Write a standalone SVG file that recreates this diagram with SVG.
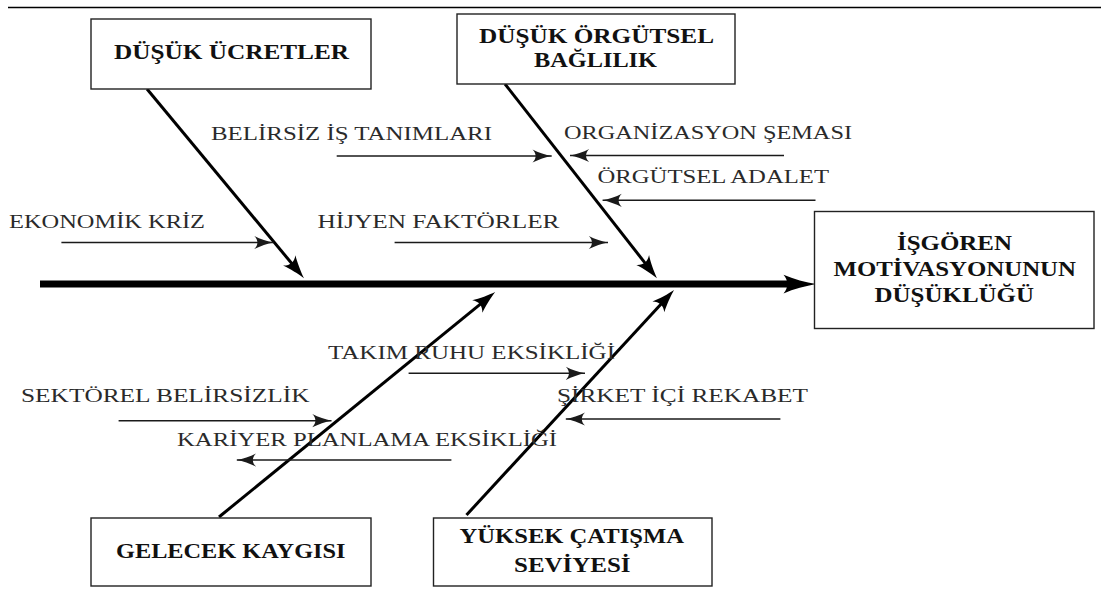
<svg xmlns="http://www.w3.org/2000/svg" width="1101" height="601" viewBox="0 0 1101 601">
  <style>
    .box { fill: #ffffff; stroke: #222222; stroke-width: 1.4; }
    .title { font-family: "Liberation Serif", "DejaVu Serif", serif; font-weight: bold; font-size: 21px; fill: #111111; }
    .label { font-family: "Liberation Serif", "DejaVu Serif", serif; font-size: 19.5px; fill: #2a2a2a; }
    .spine { stroke: #000000; stroke-width: 7; fill: none; marker-end: url(#spineHead); }
    .bone { stroke: #000000; stroke-width: 3; fill: none; marker-end: url(#boneHead); }
    .cause { stroke: #1a1a1a; stroke-width: 1.4; fill: none; marker-end: url(#causeHead); }
  </style>
  <defs>
    <marker id="spineHead" markerUnits="userSpaceOnUse" orient="auto" refX="-16" refY="0" markerWidth="40" markerHeight="40" viewBox="-30 -10 32 20" overflow="visible">
      <path d="M0,0 C-8,-1.5 -18,-4 -26,-7.5 C-22,-3 -22,3 -26,7.5 C-18,4 -8,1.5 0,0 Z" fill="#000000"/>
    </marker>
    <marker id="boneHead" markerUnits="userSpaceOnUse" orient="auto" refX="-10" refY="0" markerWidth="30" markerHeight="30" viewBox="-24 -10 26 20" overflow="visible">
      <path d="M0,0 C-6,-1.5 -14,-4 -20,-7 C-16,-2.5 -16,2.5 -20,7 C-14,4 -6,1.5 0,0 Z" fill="#000000"/>
    </marker>
    <marker id="causeHead" markerUnits="userSpaceOnUse" orient="auto" refX="0" refY="0" markerWidth="24" markerHeight="24" viewBox="-18 -8 20 16" overflow="visible">
      <path d="M0,0 C-5,-1 -11,-3 -16,-5.5 C-12.5,-2 -12.5,2 -16,5.5 C-11,3 -5,1 0,0 Z" fill="#1a1a1a"/>
    </marker>
  </defs>

  <!-- rule across the top -->
  <line x1="8" y1="7.5" x2="1101" y2="7.5" stroke="#000000" stroke-width="1.6"/>

  <g id="connectors">
    <!-- main spine -->
    <line class="spine" x1="40" y1="284" x2="796" y2="284"/>
    <!-- major bones -->
    <line class="bone" x1="147" y1="89" x2="296.6" y2="269.3"/>
    <line class="bone" x1="505" y1="84" x2="649.8" y2="269.1"/>
    <line class="bone" x1="219" y1="517" x2="486.2" y2="299.3"/>
    <line class="bone" x1="466.5" y1="515" x2="666.2" y2="298.4"/>
    <!-- minor causes -->
    <line class="cause" x1="61.4" y1="242.5" x2="273.5" y2="242.5"/>
    <line class="cause" x1="336.7" y1="156" x2="551.7" y2="156"/>
    <line class="cause" x1="394.6" y1="242.5" x2="608" y2="242.5"/>
    <line class="cause" x1="784" y1="155.5" x2="570" y2="155.5"/>
    <line class="cause" x1="815.5" y1="200.3" x2="602.6" y2="200.3"/>
    <line class="cause" x1="408.6" y1="373.3" x2="585" y2="373.3"/>
    <line class="cause" x1="118.6" y1="420.7" x2="331.5" y2="420.7"/>
    <line class="cause" x1="451.4" y1="460" x2="236.8" y2="460"/>
    <line class="cause" x1="780.4" y1="419" x2="565.8" y2="419"/>
  </g>

  <g id="labels">
    <text class="label" x="9" y="227.5" textLength="196" lengthAdjust="spacingAndGlyphs">EKONOMİK KRİZ</text>
    <text class="label" x="211" y="139.5" textLength="281" lengthAdjust="spacingAndGlyphs">BELİRSİZ İŞ TANIMLARI</text>
    <text class="label" x="317.5" y="227.5" textLength="242" lengthAdjust="spacingAndGlyphs">HİJYEN FAKTÖRLER</text>
    <text class="label" x="564" y="139.3" textLength="288" lengthAdjust="spacingAndGlyphs">ORGANİZASYON ŞEMASI</text>
    <text class="label" x="597.5" y="183.3" textLength="231.5" lengthAdjust="spacingAndGlyphs">ÖRGÜTSEL ADALET</text>
    <text class="label" x="328" y="359.3" textLength="287" lengthAdjust="spacingAndGlyphs">TAKIM RUHU EKSİKLİĞİ</text>
    <text class="label" x="21" y="402.3" textLength="288.5" lengthAdjust="spacingAndGlyphs">SEKTÖREL BELİRSİZLİK</text>
    <text class="label" x="177" y="446" textLength="380" lengthAdjust="spacingAndGlyphs">KARİYER PLANLAMA EKSİKLİĞİ</text>
    <text class="label" x="557" y="401.7" textLength="251" lengthAdjust="spacingAndGlyphs">ŞİRKET İÇİ REKABET</text>
  </g>

  <g id="node-dusuk-ucretler">
    <rect class="box" x="91" y="19" width="280" height="70"/>
    <text class="title" x="114" y="59.3" textLength="235" lengthAdjust="spacingAndGlyphs">DÜŞÜK ÜCRETLER</text>
  </g>

  <g id="node-orgutsel-baglilik">
    <rect class="box" x="457" y="14" width="278" height="70"/>
    <text class="title" x="479" y="43.3" textLength="235" lengthAdjust="spacingAndGlyphs">DÜŞÜK ÖRGÜTSEL</text>
    <text class="title" x="534" y="66.7" textLength="123" lengthAdjust="spacingAndGlyphs">BAĞLILIK</text>
  </g>

  <g id="node-sonuc">
    <rect class="box" x="814.5" y="211.5" width="279.5" height="117"/>
    <text class="title" x="897" y="250" textLength="115" lengthAdjust="spacingAndGlyphs">İŞGÖREN</text>
    <text class="title" x="833.5" y="276" textLength="242.5" lengthAdjust="spacingAndGlyphs">MOTİVASYONUNUN</text>
    <text class="title" x="874.5" y="302" textLength="159.5" lengthAdjust="spacingAndGlyphs">DÜŞÜKLÜĞÜ</text>
  </g>

  <g id="node-gelecek-kaygisi">
    <rect class="box" x="91" y="518" width="280" height="68"/>
    <text class="title" x="116" y="558" textLength="229.5" lengthAdjust="spacingAndGlyphs">GELECEK KAYGISI</text>
  </g>

  <g id="node-catisma">
    <rect class="box" x="433.5" y="518" width="278.5" height="68"/>
    <text class="title" x="459.5" y="543" textLength="224.5" lengthAdjust="spacingAndGlyphs">YÜKSEK ÇATIŞMA</text>
    <text class="title" x="514" y="572" textLength="116.5" lengthAdjust="spacingAndGlyphs">SEVİYESİ</text>
  </g>
</svg>
